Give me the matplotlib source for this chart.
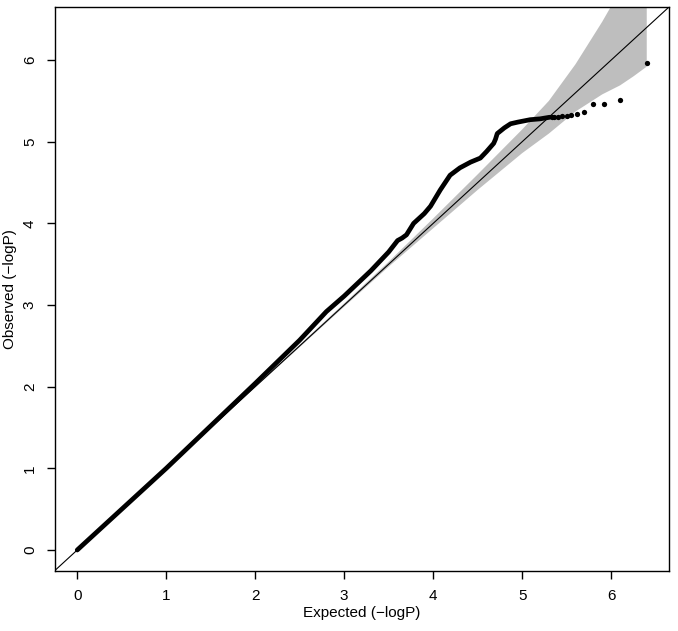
import matplotlib
matplotlib.use('Agg')
import matplotlib.pyplot as plt

# dense part of the observed curve (expected, observed)
curve_exp = [0.0, 0.5, 1.0, 1.5, 2.0, 2.5, 2.8, 3.0, 3.3, 3.5, 3.6, 3.65,
             3.7, 3.78, 3.9, 3.97, 4.08, 4.19, 4.3, 4.42, 4.53, 4.6, 4.68,
             4.70, 4.72, 4.8, 4.87, 4.95, 5.09, 5.2, 5.31]
curve_obs = [0.0, 0.5, 1.0, 1.52, 2.04, 2.57, 2.92, 3.11, 3.42, 3.65, 3.79,
             3.82, 3.86, 4.0, 4.12, 4.21, 4.41, 4.59, 4.68, 4.75, 4.80, 4.88,
             4.98, 5.03, 5.10, 5.17, 5.22, 5.24, 5.27, 5.28, 5.30]

# top hits drawn as single dots
tail_exp = [5.33, 5.36, 5.40, 5.45, 5.50, 5.55, 5.62, 5.70, 5.80, 5.92,
            6.10, 6.40]
tail_obs = [5.30, 5.30, 5.30, 5.31, 5.31, 5.33, 5.34, 5.37, 5.46, 5.46,
            5.51, 5.97]

# 95% band around the null line
band_exp = [0.0, 1.0, 2.0, 3.0, 3.5, 4.0, 4.5, 5.0, 5.3, 5.6, 5.9, 6.1,
            6.25, 6.4]
band_hi = [0.0, 1.0, 2.01, 3.02, 3.53, 4.06, 4.60, 5.15, 5.50, 5.95, 6.47,
           6.85, 7.4, 8.0]
band_lo = [0.0, 1.0, 1.99, 2.98, 3.47, 3.94, 4.41, 4.86, 5.10, 5.37, 5.58,
           5.69, 5.80, 5.92]

ticks = [0, 1, 2, 3, 4, 5, 6]

plt.rcParams['font.family'] = ['Liberation Sans', 'DejaVu Sans']

fig = plt.figure(figsize=(6.78, 6.31), dpi=100)
ax = fig.add_axes([0.0811, 0.0951, 0.9056, 0.8938])

ax.fill_between(band_exp, band_lo, band_hi, color='#bebebe', lw=0, zorder=1)
ax.axline((0, 0), slope=1, color='black', lw=0.8, zorder=2)
ax.plot(curve_exp, curve_obs, color='black', lw=3.4,
        solid_capstyle='round', solid_joinstyle='round', zorder=3)
ax.plot(tail_exp, tail_obs, 'o', color='black', ms=3.8, mew=0, zorder=3)

ax.set_xlim(-0.25, 6.65)
ax.set_ylim(-0.257, 6.65)
ax.set_xticks(ticks)
ax.set_yticks(ticks)
ax.tick_params(direction='out', length=6, width=1, labelsize=11, pad=7)
for lab in ax.get_yticklabels():
    lab.set_rotation(90)
    lab.set_va('center')
for sp in ax.spines.values():
    sp.set_linewidth(1.0)

ax.set_xlabel('Expected (\u2212logP)', fontsize=11, labelpad=2)
ax.set_ylabel('Observed (\u2212logP)', fontsize=11, labelpad=4)

fig.savefig('out.png', dpi=100)
plt.close()
